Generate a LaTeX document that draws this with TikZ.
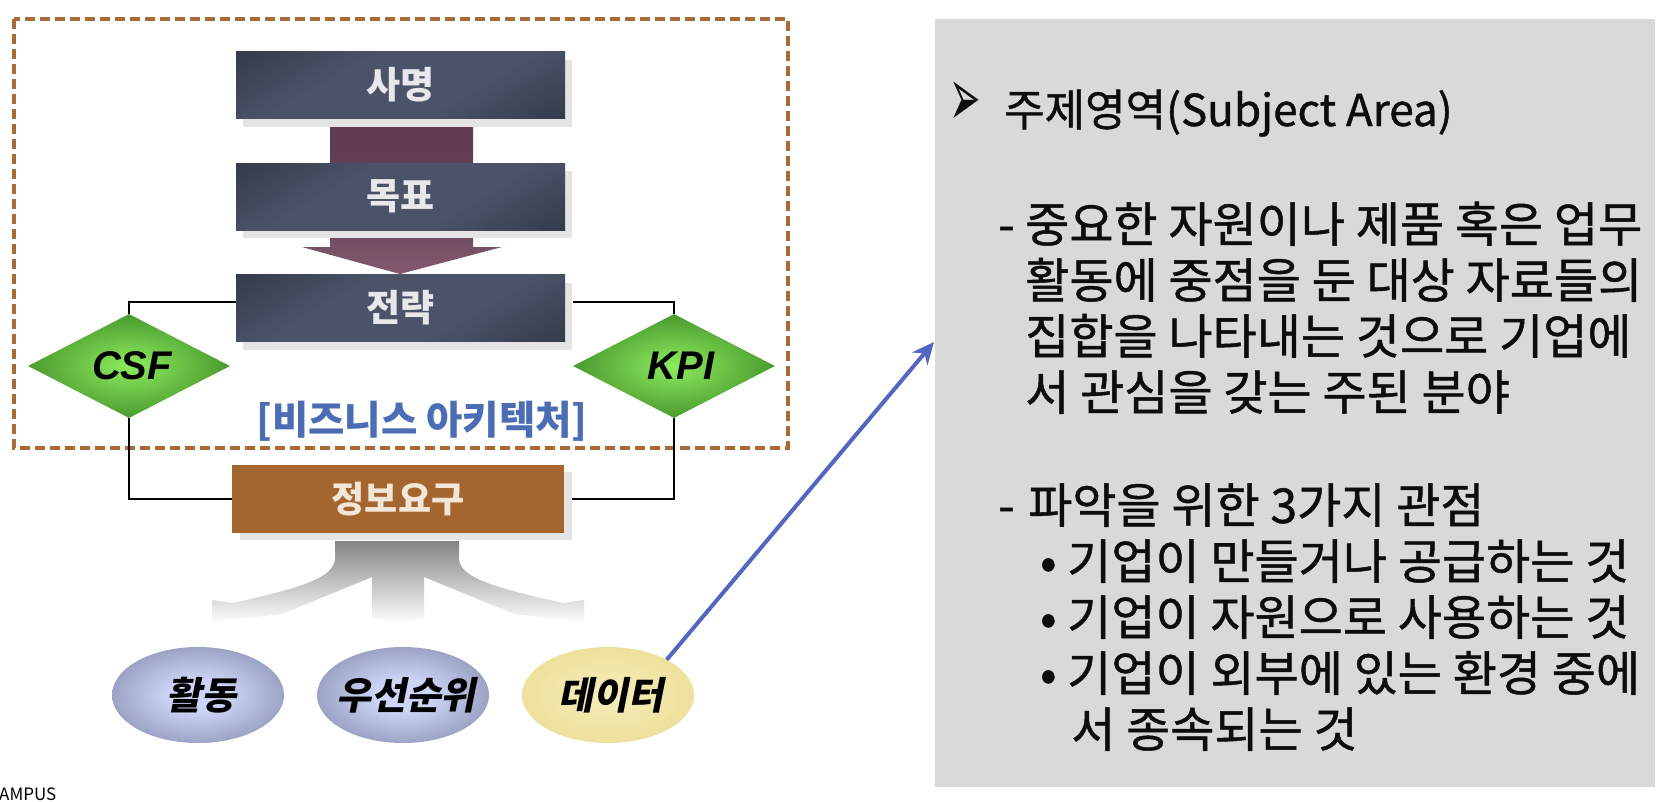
\documentclass[tikz,border=0pt]{standalone}
\usepackage{fontspec}
\usepackage{graphicx}
\usetikzlibrary{shapes.geometric,arrows.meta}
\setmainfont{Noto Sans CJK KR}
\newfontfamily\kr{Noto Sans CJK KR}[FakeBold=1]
\newfontfamily\krbox{Noto Sans CJK KR}
\newfontfamily\krbi{Noto Sans CJK KR}[FakeSlant=0.2]
\newfontfamily\latbi{Liberation Sans}
\newfontfamily\dingfont{DejaVu Sans}
\definecolor{boxdark}{HTML}{252A37}
\definecolor{boxlight}{HTML}{4B5369}
\definecolor{boxtext}{HTML}{E8E8EC}
\definecolor{shadowgray}{HTML}{E4E4E4}
\definecolor{maroonA}{HTML}{5F3C50}
\definecolor{maroonB}{HTML}{83596F}
\definecolor{dashbrown}{HTML}{A86B36}
\definecolor{infobrown}{HTML}{A5652F}
\definecolor{infotext}{HTML}{F2E6D8}
\definecolor{archblue}{HTML}{4C6DB4}
\definecolor{greenin}{HTML}{8DEC5E}
\definecolor{greenout}{HTML}{4A9A2E}
\definecolor{ballin}{HTML}{CDD5F6}
\definecolor{ballout}{HTML}{656C8D}
\definecolor{datain}{HTML}{F6EEBB}
\definecolor{dataout}{HTML}{EEE09C}
\definecolor{linkblue}{HTML}{5467C0}
\definecolor{panelgray}{HTML}{D9D9D9}
\definecolor{treegray}{HTML}{858585}
\pgfdeclarehorizontalshading{boxshade}{100bp}{color(0bp)=(boxdark); color(38bp)=(boxlight); color(62bp)=(boxlight); color(100bp)=(boxdark)}
\pgfdeclareradialshading{ballshade}{\pgfpoint{0bp}{0bp}}{color(0bp)=(ballin); color(8bp)=(ballin); color(44bp)=(ballout); color(50bp)=(ballout)}
\begin{document}
\begin{tikzpicture}[x=1pt,y=-1pt,
  darkbox/.style={rectangle, minimum width=329pt, minimum height=67pt, inner sep=0pt,
    shade, shading=boxshade, shading angle=-60, text=boxtext,
    font=\krbox\bfseries\fontsize{37}{37}\selectfont,
    preaction={fill=shadowgray, transform canvas={xshift=7pt,yshift=-8pt}}},
  infobox/.style={rectangle, minimum width=332pt, minimum height=68pt, inner sep=0pt,
    fill=infobrown, text=infotext, font=\krbox\bfseries\fontsize{36}{36}\selectfont,
    preaction={fill=shadowgray, transform canvas={xshift=8pt,yshift=-7pt}}},
  gem/.style={diamond, minimum width=202pt, minimum height=104pt, inner sep=0pt,
    inner color=greenin, outer color=greenout},
  gemtext/.style={inner sep=0pt, font=\latbi\bfseries\itshape\fontsize{40}{40}\selectfont},
  ball/.style={ellipse, minimum width=172pt, minimum height=96pt, inner sep=0pt,
    shade, shading=ballshade},
  databall/.style={ellipse, minimum width=172pt, minimum height=96pt, inner sep=0pt,
    inner color=datain, outer color=dataout},
  balltext/.style={inner sep=0pt, font=\krbi\bfseries\fontsize{38}{38}\selectfont},
  conn/.style={draw=black, line width=1.5pt},
  paneltext/.style={anchor=base west, inner sep=0pt, font=\kr\fontsize{48}{54}\selectfont, text=black!95}
]
\useasboundingbox (0,0) rectangle (1663,801);
\fill[white] (0,0) rectangle (1663,801);

% right panel
\fill[panelgray] (935,19) rectangle (1655,787);

% dashed frame
\draw[dashbrown, line width=4pt, dash pattern=on 10pt off 5pt] (14,19) rectangle (788,448);

% maroon link and arrow
\shade[top color=maroonA, bottom color=maroonA!90!maroonB] (330,118) rectangle (473,163);
\shade[top color=maroonB!85!black, bottom color=maroonB] (330,232) -- (473,232) -- (473,247) -- (502,247) -- (400,274) -- (302,247) -- (330,247) -- cycle;

% boxes
\node[darkbox] (mission) at (400.5,85) {사명};
\node[darkbox] (goal) at (400.5,196.5) {목표};
\node[darkbox] (strat) at (400.5,308) {전략};
\node[infobox] (info) at (398,499) {정보요구};

% diamonds
\node[gem] (csf) at (129,366) {};
\node[gem] (kpi) at (674,366) {};
\node[gemtext] (csfl) at ([xshift=3pt]csf.center) {CSF};
\node[gemtext] (kpil) at ([xshift=7pt]kpi.center) {KPI};

% connectors
\draw[conn] ([yshift=6pt]strat.west) -| (csf.north);
\draw[conn] ([xshift=8pt,yshift=6pt]strat.east) -| (kpi.north);
\draw[conn] (csf.south) |- (info.west);
\draw[conn] (kpi.south) |- ([xshift=8pt]info.east);

% architecture label
\node[inner sep=0pt, text=archblue, font=\krbox\bfseries\fontsize{39.5}{39.5}\selectfont] (arch) at (422,421) {[비즈니스 아키텍처]};

% merge shape
\shade[top color=treegray, middle color=black!11, bottom color=white]
  (335,541) -- (335,558) .. controls (335,578) and (300,588) .. (233,603)
  -- (212,600) -- (212,622) -- (282,614) -- (372,577) -- (372,618) -- (398,624)
  -- (424,618) -- (424,577) -- (514,614) -- (584,622) -- (584,600) -- (563,603)
  .. controls (496,588) and (459,578) .. (459,558) -- (459,541) -- cycle;

% ellipses
\node[ball] (act) at (198,695) {};
\node[ball] (prio) at (403,695) {};
\node[databall] (data) at (608,695) {};
\node[balltext] (actl) at ([xshift=3pt]act.center) {활동};
\node[balltext] (priol) at ([xshift=3pt]prio.center) {우선순위};
\node[balltext] (datal) at ([xshift=3pt]data.center) {데이터};

% blue link
\coordinate (panelpt) at (934,342);
\draw[linkblue, line width=4pt, -{Stealth[length=22pt,width=20pt]}] (data.31) -- (panelpt);

% panel text
\node[paneltext, font=\kr\fontsize{44}{50}\selectfont] (t0) at (949,126) {\makebox[55pt][l]{\scalebox{0.85}[1.9]{\dingfont\fontsize{44}{44}\selectfont ➢}}주제영역(Subject Area)};
\node[paneltext] (t1) at (998,242) {\makebox[27pt][l]{-}중요한 자원이나 제품 혹은 업무};
\node[paneltext] (t2) at (1025,298) {활동에 중점을 둔 대상 자료들의};
\node[paneltext] (t3) at (1025,354) {집합을 나타내는 것으로 기업에};
\node[paneltext] (t4) at (1025,410) {서 관심을 갖는 주된 분야};
\node[paneltext] (t5) at (998,523) {\makebox[30pt][l]{-}파악을 위한 3가지 관점};
\node[paneltext] (t6) at (1040,579) {\makebox[27pt][l]{•}기업이 만들거나 공급하는 것};
\node[paneltext] (t7) at (1040,635) {\makebox[27pt][l]{•}기업이 자원으로 사용하는 것};
\node[paneltext] (t8) at (1040,691) {\makebox[27pt][l]{•}기업이 외부에 있는 환경 중에};
\node[paneltext] (t9) at (1071,747) {서 종속되는 것};

% watermark fragment
\node[anchor=north west, inner sep=0pt, font=\fontsize{17}{17}\selectfont] (campus) at (-1,788) {AMPUS};
\end{tikzpicture}
\end{document}
